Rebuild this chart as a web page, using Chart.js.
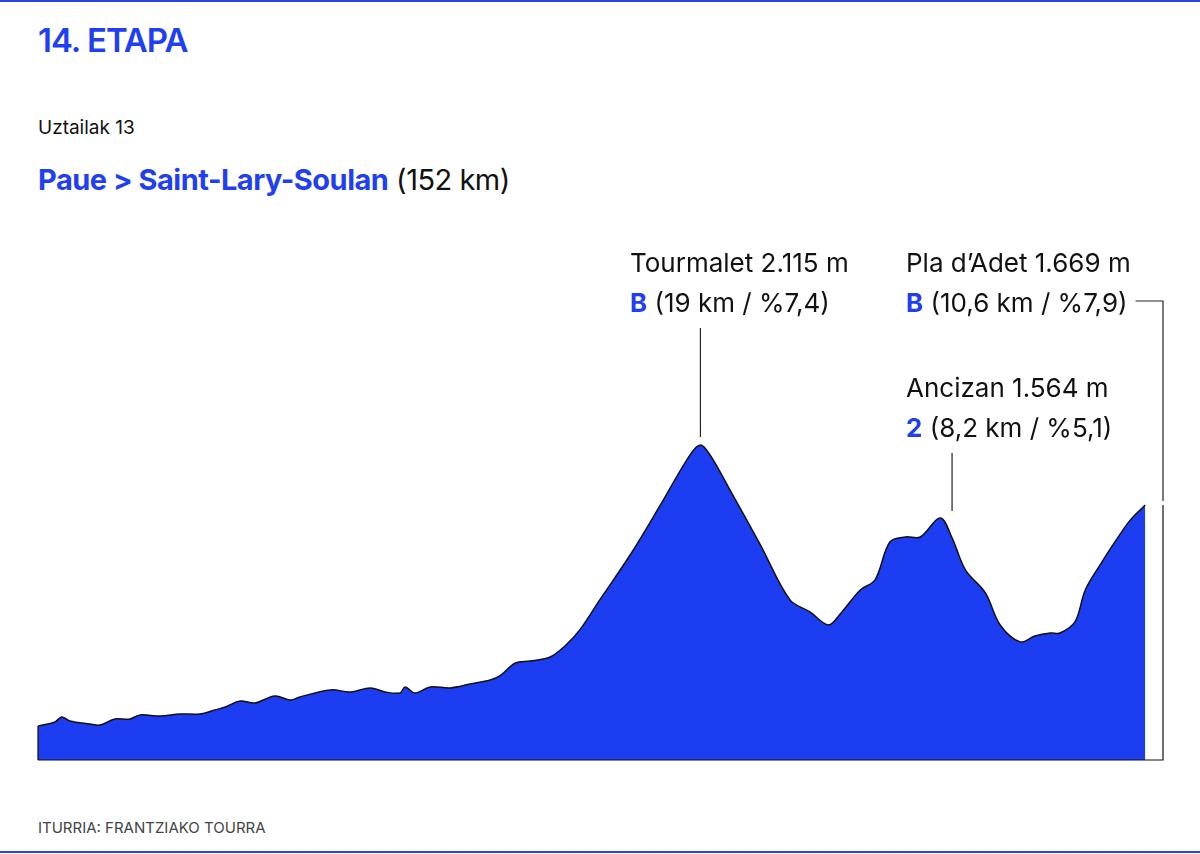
<!DOCTYPE html>
<html><head><meta charset="utf-8">
<script src="https://cdn.jsdelivr.net/npm/chart.js@4"></script>
<style>
body{margin:0;width:1200px;height:854px;position:relative;background:#fff;font-family:Inter,"Noto Sans",sans-serif;overflow:hidden}
.bar{position:absolute;left:0;width:1200px;height:2px;background:#2a44e0}
#t1{position:absolute;left:38px;top:20px;font-size:33px;font-weight:600;color:#1f3ff0;letter-spacing:-1px}
#t2{position:absolute;left:38px;top:116px;font-size:19px;color:#111}
#t3{position:absolute;left:38px;top:162px;font-size:29px;color:#111;letter-spacing:-0.5px}
#t3 b{color:#1f3ff0;font-weight:700}
#src{position:absolute;left:38px;top:818px;font-size:15px;color:#444}
canvas{position:absolute;left:0;top:0}
</style></head><body>
<div class="bar" style="top:0"></div>
<div class="bar" style="top:851px"></div>
<div id="t1">14. ETAPA</div>
<div id="t2">Uztailak 13</div>
<div id="t3"><b>Paue &gt; Saint-Lary-Soulan</b> (152 km)</div>
<div id="src">ITURRIA: FRANTZIAKO TOURRA</div>
<canvas id="c" width="1200" height="854"></canvas>
<script>
const km = [0,2.3,3.2,4.3,7.0,8.4,10.4,12.4,13.8,16.5,19.2,21.9,23.9,25.3,27.3,29.3,32.0,34.1,35.4,39.5,42.2,44.9,46.9,48.9,49.6,50.9,53.0,55.7,58.4,61.1,62.4,64.5,66.5,69.2,71.2,73.2,75.9,80.0,84.1,88.1,89.5,90.8,93.5,97.6,101.6,104.3,106.8,108.4,111.1,113.1,115.1,117.2,119.2,121.9,123.5,125.3,128.0,130.0,132.7,134.7,136.8,138.1,140.1,141.5,143.5,145.5,147.6,149.6,152]
const altitude = [26,56,93,63,41,33,78,78,108,100,115,115,145,167,212,197,249,219,242,294,279,309,279,271,316,271,316,309,338,368,398,494,509,539,621,740,963,1297,1669,2041,2115,2041,1780,1372,963,874,777,859,1037,1112,1394,1431,1431,1572,1424,1186,1015,777,651,695,717,717,799,1037,1223,1394,1558,1669]
const peaks = [
{name:"Tourmalet 2.115 m", cat:"B", info:" (19 km / %7,4)", km:89.5, alt:2115},
{name:"Ancizan 1.564 m", cat:"2", info:" (8,2 km / %5,1)", km:123.5, alt:1564},
{name:"Pla d\u2019Adet 1.669 m", cat:"B", info:" (10,6 km / %7,9)", km:152, alt:1669}
]
// altitude list had an extra sample around the valley; align lengths
while(altitude.length>km.length) altitude.splice(56,1)

const labels = {
id:"labels",
afterDatasetsDraw(chart){
const ctx = chart.ctx, xs = chart.scales.x, ys = chart.scales.y
ctx.save()
ctx.strokeStyle = "#222"; ctx.lineWidth = 1.2
ctx.font = "26px Inter, sans-serif"; ctx.textBaseline = "alphabetic"
const pos = [[630,272],[906,397],[906,272]]
peaks.forEach((p,i)=>{
const px = xs.getPixelForValue(p.km), py = ys.getPixelForValue(p.alt)
const [tx,ty] = pos[i]
ctx.fillStyle = "#111"; ctx.fillText(p.name, tx, ty)
ctx.font = "bold 26px Inter, sans-serif"; ctx.fillStyle = "#1f3ff0"
ctx.fillText(p.cat, tx, ty+40)
const w = ctx.measureText(p.cat).width
ctx.font = "26px Inter, sans-serif"; ctx.fillStyle = "#111"
ctx.fillText(p.info, tx+w, ty+40)
ctx.beginPath()
if(i<2){ ctx.moveTo(px, ty+56); ctx.lineTo(px, py-8) }
else { const ew = tx+w+ctx.measureText(p.info).width+8; ctx.moveTo(ew, ty+29); ctx.lineTo(px, ty+29); ctx.lineTo(px, py-4) }
ctx.stroke()
})
ctx.restore()
}
}

new Chart(document.getElementById("c"),{
type:"line",
data:{datasets:[{
data:km.map((k,i)=>({x:k,y:altitude[i]})),
fill:"start", backgroundColor:"#1c3df2", borderColor:"#111", borderWidth:1.5,
pointRadius:0, tension:0.35
}]},
options:{
responsive:false, animation:false,
layout:{padding:{left:38,right:37,top:230,bottom:94}},
plugins:{legend:{display:false},tooltip:{enabled:false}},
scales:{
x:{type:"linear",min:0,max:152,display:false},
y:{min:-227,max:3713,display:false}
}
},
plugins:[labels,{id:"frame",afterDatasetsDraw(chart){
const a = chart.chartArea, c = chart.ctx
c.save(); c.strokeStyle="#111"; c.lineWidth=1.2
c.beginPath(); c.moveTo(a.left,a.bottom); c.lineTo(a.right,a.bottom); c.lineTo(a.right,chart.scales.y.getPixelForValue(1669)); c.moveTo(a.left,a.bottom); c.lineTo(a.left,chart.scales.y.getPixelForValue(26)); c.stroke(); c.restore()
}}]
})
</script>
</body></html>
